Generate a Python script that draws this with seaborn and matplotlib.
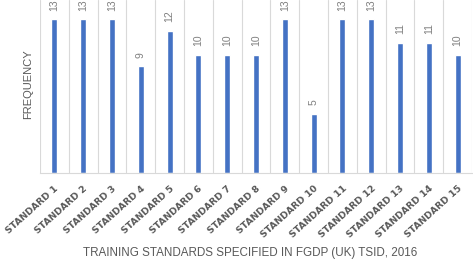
import matplotlib
matplotlib.use("Agg")
import matplotlib.pyplot as plt
import seaborn as sns
import pandas as pd

standards = [f"STANDARD {i}" for i in range(1, 16)]
frequency = [13, 13, 13, 9, 12, 10, 10, 10, 13, 5, 13, 13, 11, 11, 10]

df = pd.DataFrame({"standard": standards, "frequency": frequency})

sns.set_style("white")
plt.rcParams["font.family"] = ["Liberation Sans", "DejaVu Sans"]

fig = plt.figure(figsize=(4.73, 2.62), dpi=100)
ax = fig.add_axes([40 / 473, 89 / 262, 432 / 473, 173 / 262])

sns.barplot(data=df, x="standard", y="frequency", color="#4472C4",
            width=0.21, saturation=1, ax=ax)

ax.set_ylim(0, 14.6)
ax.set_xlim(-0.5, 14.5)
ax.set_yticks([])

# vertical separators between categories, like the original
for i in range(16):
    ax.axvline(i - 0.5, color="#D9D9D9", lw=0.8, zorder=0)

for c in ax.containers:
    ax.bar_label(c, rotation=90, padding=6, fontsize=7.5, color="#7F7F7F")

for s in ["top", "right", "left"]:
    ax.spines[s].set_visible(False)
ax.spines["bottom"].set_color("#D9D9D9")

ax.tick_params(axis="x", length=0, pad=8)
plt.setp(ax.get_xticklabels(), rotation=42, ha="right", rotation_mode="anchor",
         family="DejaVu Sans", weight="bold", fontsize=6.7, color="#595959")

ax.set_xlabel("TRAINING STANDARDS SPECIFIED IN FGDP (UK) TSID, 2016",
              fontsize=8.4, color="#595959")
ax.xaxis.set_label_coords(0.486, -0.425)
ax.set_ylabel("FREQUENCY", fontsize=8, color="#595959")
ax.yaxis.set_label_coords(-0.016, 0.514)

fig.savefig("out.png", dpi=100)
plt.close(fig)
